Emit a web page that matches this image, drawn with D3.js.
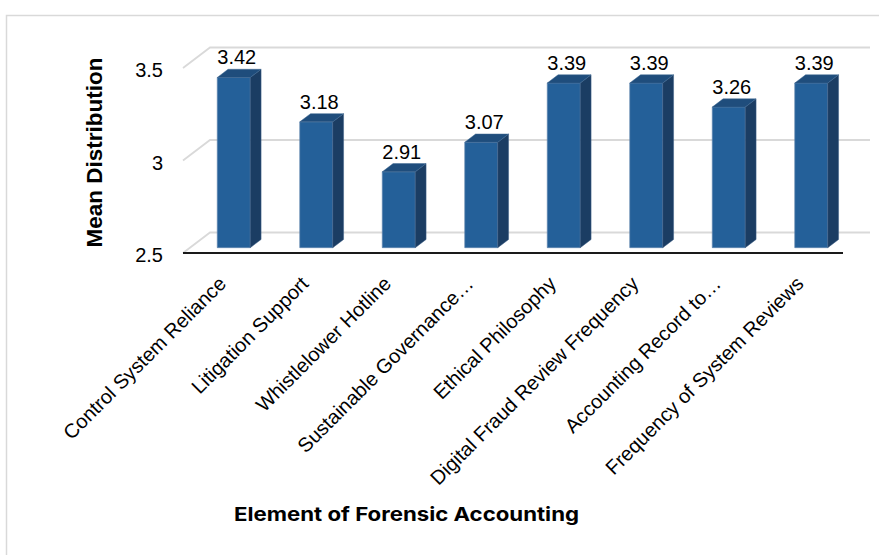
<!DOCTYPE html>
<html>
<head>
<meta charset="utf-8">
<script src="https://cdn.jsdelivr.net/npm/d3@7"></script>
<style>
  html, body { margin: 0; padding: 0; background: #ffffff; }
  svg { display: block; }
  text { font-family: "Liberation Sans", Arial, sans-serif; fill: #000; }
</style>
</head>
<body>
<svg id="chart" width="879" height="555"></svg>
<script>
// Mean score for each element of forensic accounting
const categories = [
  "Control System Reliance",
  "Litigation Support",
  "Whistlelower Hotline",
  "Sustainable Governance…",
  "Ethical Philosophy",
  "Digital Fraud Review Frequency",
  "Accounting Record to…",
  "Frequency of System Reviews"
];
const means = [3.42, 3.18, 2.91, 3.07, 3.39, 3.39, 3.26, 3.39];
const yTicks = [2.5, 3, 3.5];
const yTickLabels = ["2.5", "3", "3.5"];

const svg = d3.select("#chart");

// Outer chart frame
svg.append("rect")
  .attr("x", 6.5).attr("y", 15.5)
  .attr("width", 900).attr("height", 600)
  .attr("fill", "none").attr("stroke", "#d9d9d9").attr("stroke-width", 1.5);

// 3D projection: front floor edge and depth vector of the box
const floorX = [183, 843];
const depth = { dx: 27, dy: -20.5 };
const barFront = 0.26, barBack = 0.66;

const y = d3.scaleLinear().domain([2.5, 3.5]).range([253, 68]);
const x = d3.scaleBand().domain(categories).range(floorX)
  .paddingInner(0.6).paddingOuter(0.3);

// Gridlines on side wall and back wall
const grid = svg.append("g");
yTicks.forEach(v => {
  const yf = y(v);
  grid.append("path")
    .attr("d", d3.line()([
      [floorX[0], yf],
      [floorX[0] + depth.dx, yf + depth.dy],
      [floorX[1] + depth.dx, yf + depth.dy]
    ]))
    .attr("fill", "none").attr("stroke", "#d9d9d9").attr("stroke-width", 1.8);
});

// Front edge of the floor (category axis line)
svg.append("line")
  .attr("x1", floorX[0]).attr("x2", floorX[1])
  .attr("y1", y(2.5)).attr("y2", y(2.5))
  .attr("stroke", "#1a1a1a").attr("stroke-width", 2);

// Value axis labels
svg.append("g").selectAll("text").data(yTicks).join("text")
  .attr("x", 163).attr("y", d => y(d) + 9)
  .attr("text-anchor", "end").attr("font-size", 20)
  .text((d, i) => yTickLabels[i]);

// 3D columns
const bw = x.bandwidth();
const fdx = depth.dx * barFront + 2.5, fdy = depth.dy * barFront;
const sdx = depth.dx * (barBack - barFront), sdy = depth.dy * (barBack - barFront);

const bars = svg.append("g").selectAll("g").data(categories).join("g");
bars.each(function (c, i) {
  const g = d3.select(this);
  const x0 = x(c) + fdx, x1 = x0 + bw;
  const yt = y(means[i]) + fdy, yb = y(2.5) + fdy;
  // front face
  g.append("path")
    .attr("d", d3.line()([[x0, yb], [x0, yt], [x1, yt], [x1, yb]]) + "Z")
    .attr("fill", "#246099").attr("stroke", "#5f84ad").attr("stroke-width", 0.7);
  // right side face
  g.append("path")
    .attr("d", d3.line()([[x1, yb], [x1, yt], [x1 + sdx, yt + sdy], [x1 + sdx, yb + sdy]]) + "Z")
    .attr("fill", "#1b3d63").attr("stroke", "#3d5f86").attr("stroke-width", 0.5);
  // top face
  g.append("path")
    .attr("d", d3.line()([[x0, yt], [x1, yt], [x1 + sdx, yt + sdy], [x0 + sdx, yt + sdy]]) + "Z")
    .attr("fill", "#1f4d7c").attr("stroke", "#3d6690").attr("stroke-width", 0.5);
  // value label
  g.append("text")
    .attr("x", x0 + bw / 2 + 3).attr("y", yt - 13)
    .attr("text-anchor", "middle").attr("font-size", 20)
    .text(means[i].toFixed(2));
});

// Category labels, rotated
svg.append("g").selectAll("text").data(categories).join("text")
  .attr("transform", d => `translate(${x(d) + bw / 2 + 3},285) rotate(-45)`)
  .attr("text-anchor", "end").attr("font-size", 20)
  .text(d => d);

// Axis titles
svg.append("text")
  .attr("transform", "translate(102,152.5) rotate(-90)")
  .attr("text-anchor", "middle").attr("font-size", 22.5).attr("font-weight", "bold")
  .text("Mean Distribution");

svg.append("text")
  .attr("x", 406.5).attr("y", 521)
  .attr("text-anchor", "middle").attr("font-size", 19).attr("font-weight", "bold")
  .style("font-family", "Inter, 'Liberation Sans', sans-serif")
  .attr("textLength", 345).attr("lengthAdjust", "spacingAndGlyphs")
  .text("Element of Forensic Accounting");
</script>
</body>
</html>
